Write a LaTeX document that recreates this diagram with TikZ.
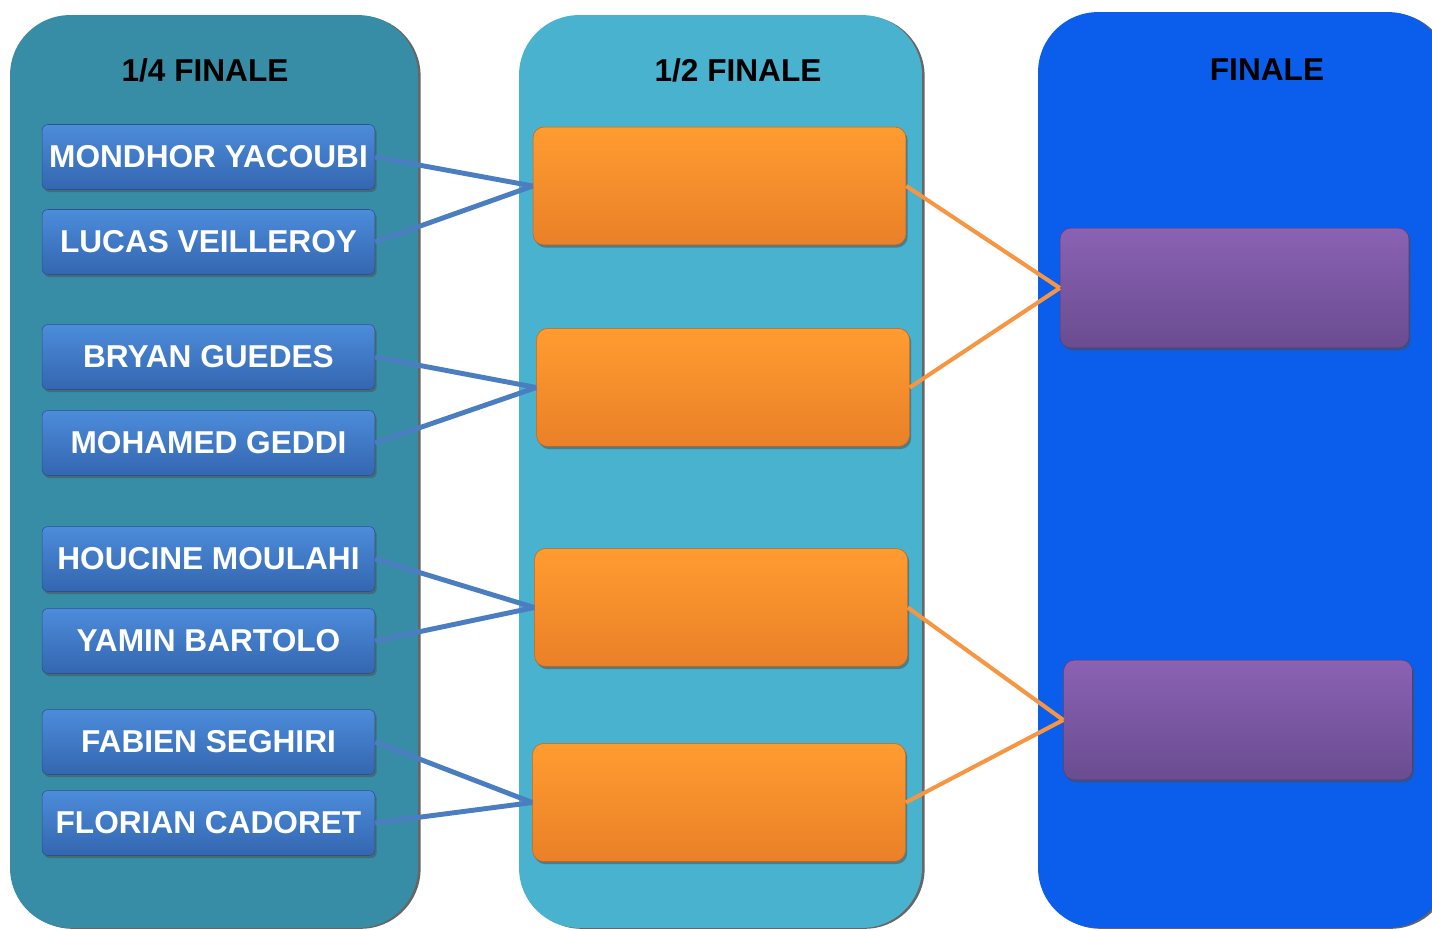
\documentclass[tikz,border=0pt]{standalone}
\usepackage{fontspec}
\setmainfont{Liberation Sans}
\usepackage{tikz}
\usetikzlibrary{shadows}
\definecolor{quartcol}{RGB}{56,141,166}
\definecolor{semicol}{RGB}{72,178,207}
\definecolor{finalcol}{RGB}{11,94,236}
\definecolor{playertop}{RGB}{76,140,218}
\definecolor{playerbot}{RGB}{52,102,176}
\definecolor{orangetop}{RGB}{255,156,48}
\definecolor{orangebot}{RGB}{234,128,40}
\definecolor{purpletop}{RGB}{138,98,180}
\definecolor{purplebot}{RGB}{106,76,144}
\definecolor{linkblue}{RGB}{74,126,193}
\definecolor{linkorange}{RGB}{247,150,66}
\tikzset{%
  every panel/.style={
    rounded corners=1.2cm,
    draw=none,
    drop shadow={shadow xshift=1.5pt, shadow yshift=-0.5pt, opacity=0.8, fill=black!75}
  },
  panel title/.style={
    font=\fontsize{18}{20}\selectfont\bfseries,
    text=black
  },
  player box/.style={
    rectangle,
    rounded corners=0.12cm,
    top color=playertop,
    bottom color=playerbot,
    draw=playerbot!80!black,
    line width=0.3pt,
    minimum width=6.66cm,
    minimum height=1.3cm,
    text=white,
    font=\fontsize{18}{20}\selectfont\bfseries,
    drop shadow={shadow xshift=1pt, shadow yshift=-1.5pt, opacity=0.5, fill=black!70}
  },
  semi box/.style={
    rectangle,
    rounded corners=0.22cm,
    top color=orangetop,
    bottom color=orangebot,
    draw=orangebot!80!black,
    line width=0.3pt,
    minimum width=7.46cm,
    minimum height=2.36cm,
    drop shadow={shadow xshift=1pt, shadow yshift=-1.5pt, opacity=0.5, fill=black!70}
  },
  final box/.style={
    rectangle,
    rounded corners=0.22cm,
    top color=purpletop,
    bottom color=purplebot,
    draw=purplebot!80!black,
    line width=0.3pt,
    minimum width=6.98cm,
    minimum height=2.4cm,
    drop shadow={shadow xshift=1pt, shadow yshift=-1.5pt, opacity=0.5, fill=black!70}
  },
  blue link/.style={linkblue, line width=2.8pt},
  orange link/.style={linkorange, line width=2.3pt},
}

\begin{document}
\begin{tikzpicture}[> = stealth, x=0.02cm, y=-0.02cm]
\clip (0,0) rectangle (1432,930);
\fill[white] (0,0) rectangle (1432,930);
% columns
\node[every panel, fill=quartcol, minimum width=8.16cm, minimum height=18.26cm] (quart_panel) at (214,471.5) {};
\node[every panel, fill=semicol, minimum width=8.06cm, minimum height=18.26cm] (semi_panel) at (720.5,471.5) {};
\node[every panel, fill=finalcol, minimum width=8.2cm, minimum height=18.32cm] (final_panel) at (1243,470) {};
\node[panel title] (quart_title) at (205,70) {1/4 FINALE};
\node[panel title] (semi_title) at (738,70) {1/2 FINALE};
\node[panel title] (final_title) at (1267,70) {FINALE};
% players
\foreach \name/\y [count=\i] in {MONDHOR YACOUBI/157, LUCAS VEILLEROY/242,
    BRYAN GUEDES/357, MOHAMED GEDDI/443, HOUCINE MOULAHI/559,
    YAMIN BARTOLO/641, FABIEN SEGHIRI/742, FLORIAN CADORET/823}
    \node[player box] (player_\i) at (208.5,\y) {\name};
% semi finals and finals
\node[semi box] (semi_1) at (719.5,186) {};
\node[semi box] (semi_2) at (723,387.5) {};
\node[semi box] (semi_3) at (721,607.5) {};
\node[semi box] (semi_4) at (719,802.5) {};
\node[final box] (final_1) at (1234.5,288) {};
\node[final box] (final_2) at (1238,720) {};
% links
\foreach \a/\b/\s in {1/2/1, 3/4/2, 5/6/3, 7/8/4} {
    \draw[blue link] (player_\a.east) -- (semi_\s.west);
    \draw[blue link] (player_\b.east) -- (semi_\s.west);
}
\draw[orange link] (semi_1.east) -- (final_1.west);
\draw[orange link] (semi_2.east) -- (final_1.west);
\draw[orange link] (semi_3.east) -- (final_2.west);
\draw[orange link] (semi_4.east) -- (final_2.west);
\end{tikzpicture}
\end{document}
